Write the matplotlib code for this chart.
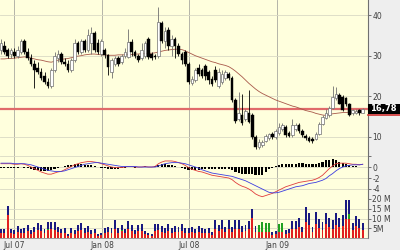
import matplotlib
matplotlib.use('Agg')
import numpy as np
import pandas as pd
import matplotlib.pyplot as plt
import matplotlib.dates as mdates
from matplotlib.patches import Rectangle
from matplotlib.lines import Line2D

# weekly candles, Jun 2007 - Jun 2009
dates = pd.date_range('2007-06-04', periods=109, freq='7D')

opens = [31.5, 32.5, 31.5, 30.5, 31.0, 30.0, 31.0, 33.5, 31.0, 29.5,
         28.0, 27.0, 26.0, 25.0, 23.5, 22.5, 26.5, 29.5, 30.5, 28.5,
         28.0, 26.5, 29.0, 33.0, 31.0, 33.5, 31.5, 33.0, 35.5, 33.0,
         30.5, 31.5, 30.2, 26.0, 28.0, 29.5, 28.5, 30.0, 29.7, 33.3,
         31.0, 30.0, 29.5, 30.0, 34.0, 30.3, 30.0, 30.0, 38.0, 33.5,
         36.3, 32.5, 34.0, 32.5, 30.5, 31.0, 28.0, 23.3, 24.0, 27.0,
         26.5, 27.5, 26.0, 24.3, 26.5, 22.5, 23.5, 24.5, 25.5, 24.5,
         19.0, 14.5, 15.5, 14.5, 16.0, 15.5, 10.0, 7.5, 8.0, 9.0,
         9.8, 10.8, 10.0, 11.0, 12.0, 12.5, 11.0, 10.5, 12.0, 13.0,
         11.5, 10.3, 9.8, 9.5, 9.5, 10.8, 13.2, 14.7, 15.5, 17.2,
         19.5, 20.3, 19.8, 19.5, 18.0, 15.8, 16.0, 16.6, 16.0]
closes = [33.0, 31.0, 30.0, 31.5, 30.0, 31.5, 33.5, 31.0, 29.5, 28.0,
          26.5, 26.0, 24.5, 23.5, 22.5, 26.5, 30.0, 30.5, 28.5, 28.0,
          26.5, 29.0, 33.0, 31.0, 33.5, 31.5, 35.0, 35.5, 31.5, 31.0,
          33.5, 30.2, 27.2, 28.9, 29.5, 28.0, 30.0, 31.0, 33.3, 30.8,
          29.8, 28.9, 31.5, 33.2, 29.7, 29.5, 29.7, 38.3, 33.5, 36.0,
          32.3, 34.0, 32.5, 30.5, 29.0, 28.0, 23.5, 24.2, 26.5, 25.5,
          25.0, 25.0, 24.0, 23.0, 24.0, 26.0, 25.5, 26.0, 24.5, 19.0,
          14.0, 16.0, 13.5, 16.3, 13.8, 10.0, 7.5, 8.7, 8.8, 10.3,
          10.8, 10.0, 11.5, 12.5, 13.0, 10.5, 10.3, 13.0, 13.0, 11.5,
          10.5, 9.8, 9.0, 8.9, 10.8, 13.3, 15.0, 15.8, 17.2, 19.8,
          20.5, 18.2, 16.6, 18.0, 15.5, 16.6, 16.5, 16.0, 16.8]
highs = [34.0, 33.5, 32.0, 32.0, 32.0, 32.5, 34.0, 34.0, 32.0, 30.5,
         29.0, 28.5, 27.0, 26.0, 24.5, 27.0, 31.0, 31.5, 31.0, 29.5,
         29.0, 29.5, 34.0, 33.5, 34.0, 34.0, 36.5, 37.0, 36.0, 34.0,
         34.0, 32.0, 30.5, 29.5, 30.0, 30.0, 30.5, 32.0, 36.5, 34.0,
         31.5, 30.5, 33.0, 33.5, 34.5, 30.8, 30.3, 42.0, 38.5, 37.0,
         37.0, 35.0, 34.5, 33.0, 31.0, 31.5, 28.5, 25.0, 27.0, 28.0,
         27.0, 28.0, 26.5, 25.0, 27.5, 27.0, 26.5, 26.5, 26.0, 25.0,
         19.5, 21.0, 20.5, 17.0, 21.5, 16.0, 10.5, 9.5, 9.2, 10.8,
         11.0, 11.3, 12.0, 13.5, 13.5, 13.0, 11.5, 14.5, 13.5, 13.5,
         12.0, 10.8, 10.3, 10.0, 11.2, 13.8, 15.5, 16.8, 17.5, 22.5,
         22.3, 20.8, 20.2, 19.8, 18.3, 17.0, 16.8, 16.8, 17.2]
lows = [30.5, 30.5, 29.5, 29.5, 29.5, 29.5, 30.5, 30.5, 29.0, 27.5,
        22.0, 25.5, 24.0, 23.0, 22.0, 22.0, 26.0, 28.5, 28.0, 27.5,
        26.0, 26.0, 28.5, 30.5, 30.5, 31.0, 31.0, 30.5, 31.0, 30.5,
        30.0, 29.5, 25.2, 24.5, 27.5, 27.5, 28.0, 29.5, 29.5, 30.0,
        29.5, 28.5, 29.0, 29.5, 29.3, 29.0, 29.3, 29.5, 33.0, 32.0,
        31.5, 30.0, 29.5, 30.0, 28.0, 27.5, 23.0, 22.8, 23.5, 25.0,
        24.5, 24.0, 23.0, 22.5, 23.5, 22.0, 23.0, 24.0, 24.0, 18.5,
        13.5, 14.0, 13.0, 14.0, 13.5, 9.5, 7.0, 7.0, 7.5, 8.8,
        9.3, 9.5, 9.5, 10.5, 11.5, 10.0, 10.0, 10.0, 11.5, 11.0,
        10.0, 9.3, 8.8, 8.6, 9.2, 10.5, 13.0, 14.5, 15.0, 17.0,
        19.0, 18.0, 16.3, 17.5, 15.2, 15.5, 15.6, 15.3, 15.8]
moving_avg = [29.2, 29.2, 29.3, 29.3, 29.4, 29.5, 29.6, 29.7, 29.6, 29.4,
              29.2, 29.0, 28.9, 28.7, 28.5, 28.4, 28.6, 28.9, 29.1, 29.2,
              29.3, 29.5, 29.7, 29.9, 30.0, 30.2, 30.3, 30.4, 30.4, 30.3,
              30.2, 30.2, 30.1, 30.1, 30.1, 30.2, 30.2, 30.2, 30.3, 30.3,
              30.4, 30.4, 30.5, 30.5, 30.6, 30.6, 30.7, 30.9, 31.1, 31.3,
              31.4, 31.5, 31.6, 31.6, 31.5, 31.2, 30.8, 30.4, 30.0, 29.7,
              29.4, 29.1, 28.8, 28.5, 28.3, 28.0, 27.8, 27.6, 27.3, 26.8,
              26.2, 25.5, 24.8, 24.0, 23.2, 22.5, 21.8, 21.2, 20.7, 20.3,
              19.9, 19.5, 19.1, 18.8, 18.5, 18.2, 17.9, 17.6, 17.4, 17.1,
              16.8, 16.5, 16.3, 16.1, 15.8, 15.6, 15.4, 15.3, 15.5, 15.7,
              15.8, 15.9, 16.0, 16.0, 16.1, 16.1, 16.1, 16.1, 16.2]
last_price = 16.78

macd = [0.6, 0.6, 0.6, 0.6, 0.5, 0.5, 0.6, 0.5, 0.3, 0.0,
        -0.3, -0.6, -0.9, -1.1, -1.3, -1.3, -1.1, -0.9, -0.8, -0.5,
        -0.2, 0.1, 0.4, 0.6, 0.8, 0.9, 1.0, 1.0, 0.9, 0.8,
        0.6, 0.4, 0.2, 0.0, -0.1, -0.1, -0.1, 0.0, 0.1, 0.1,
        0.0, 0.0, 0.0, 0.1, 0.0, 0.0, 0.1, 0.6, 0.9, 1.1,
        1.1, 1.1, 1.0, 0.8, 0.6, 0.3, -0.1, -0.4, -0.6, -0.8,
        -0.9, -1.1, -1.3, -1.5, -1.6, -1.7, -1.8, -1.9, -2.0, -2.3,
        -2.8, -3.2, -3.5, -3.7, -4.0, -4.4, -4.9, -5.2, -5.4, -5.2,
        -5.0, -4.8, -4.5, -4.2, -3.9, -3.6, -3.4, -3.2, -3.0, -2.8,
        -2.7, -2.6, -2.5, -2.4, -2.2, -1.9, -1.5, -0.9, -0.3, 0.2,
        0.6, 0.7, 0.7, 0.7, 0.6, 0.5, 0.5, 0.4, 0.5]
signal = [0.7, 0.7, 0.7, 0.7, 0.6, 0.6, 0.6, 0.6, 0.5, 0.4,
          0.2, 0.0, -0.2, -0.4, -0.6, -0.7, -0.8, -0.8, -0.8, -0.7,
          -0.5, -0.3, -0.1, 0.1, 0.3, 0.5, 0.6, 0.7, 0.8, 0.8,
          0.7, 0.6, 0.5, 0.4, 0.3, 0.2, 0.1, 0.1, 0.1, 0.1,
          0.1, 0.0, 0.0, 0.0, 0.0, 0.0, 0.0, 0.2, 0.4, 0.6,
          0.7, 0.8, 0.8, 0.8, 0.7, 0.6, 0.4, 0.2, 0.0, -0.2,
          -0.5, -0.7, -0.9, -1.1, -1.2, -1.3, -1.4, -1.5, -1.6, -1.7,
          -1.9, -2.1, -2.3, -2.5, -2.8, -3.1, -3.4, -3.7, -4.0, -4.3,
          -4.6, -4.7, -4.7, -4.6, -4.4, -4.2, -4.0, -3.8, -3.6, -3.5,
          -3.4, -3.2, -3.0, -2.9, -2.8, -2.6, -2.4, -2.1, -1.6, -1.2,
          -0.7, -0.3, 0.0, 0.2, 0.3, 0.4, 0.4, 0.4, 0.5]

# volume in millions, stacked red / green / blue
vol_red = [2.5, 2.5, 12.0, 2.5, 2.0, 3.0, 2.5, 2.5, 3.5, 2.0,
           3.0, 4.0, 3.5, 2.5, 4.0, 4.5, 4.0, 3.0, 2.5, 2.5,
           1.0, 2.5, 2.0, 3.5, 4.0, 2.5, 3.0, 2.0, 2.5, 1.0,
           1.5, 2.5, 3.0, 2.5, 4.5, 2.5, 3.5, 2.5, 4.5, 3.5,
           2.0, 3.5, 3.5, 2.0, 1.5, 1.0, 3.5, 4.0, 3.0, 2.5,
           3.5, 2.5, 3.0, 3.0, 3.5, 2.5, 2.5, 3.0, 2.5, 3.0,
           2.5, 2.5, 2.5, 1.5, 4.5, 3.5, 4.5, 3.0, 4.5, 3.0,
           4.5, 4.5, 3.0, 3.5, 4.5, 10.5, 3.0, 3.0, 3.0, 3.0,
           3.0, 1.5, 2.0, 3.0, 3.0, 2.0, 2.5, 4.5, 4.5, 5.5,
           3.0, 8.0, 6.5, 3.0, 7.0, 5.0, 4.0, 7.0, 5.5, 4.5,
           6.5, 5.5, 6.0, 10.0, 10.0, 4.0, 6.0, 5.0, 4.0]
vol_green = [0, 0, 0, 0, 0, 0, 0, 0, 0, 0,
             0, 0, 0, 0, 0.5, 0, 0, 0, 0, 0,
             0, 0, 0, 0, 0, 0, 0, 0, 0, 0,
             0, 0, 0, 0, 0, 0, 0.5, 0, 0, 0,
             0, 0, 0, 0, 0, 0, 0, 0, 0, 0,
             0, 0, 0, 0, 0, 0, 0, 0, 0, 0,
             0, 0, 0, 0, 0, 0, 0, 0, 0, 0,
             0, 0, 0, 0, 0, 0, 0, 3.5, 5.0, 4.5,
             4.5, 0, 0, 4.0, 4.5, 0, 0, 0, 0, 0,
             0, 0, 0, 0, 0, 0, 0, 0, 0, 0,
             0, 0, 0, 0, 2.5, 0, 0, 0, 0]
vol_blue = [2.0, 2.0, 4.5, 2.0, 2.0, 3.0, 2.0, 2.5, 3.0, 2.0,
            2.5, 3.5, 3.0, 2.0, 3.5, 3.5, 4.0, 2.5, 2.0, 2.5,
            1.0, 2.5, 2.0, 3.0, 3.5, 2.5, 3.0, 2.0, 2.0, 1.0,
            1.0, 2.5, 2.5, 2.5, 4.5, 2.5, 2.5, 2.0, 4.0, 3.0,
            2.0, 3.0, 3.5, 1.5, 1.0, 1.0, 3.5, 3.0, 3.0, 2.5,
            3.5, 2.5, 3.0, 2.5, 3.5, 2.5, 2.5, 2.5, 2.0, 3.0,
            2.5, 2.0, 2.5, 1.5, 4.5, 3.0, 4.5, 2.5, 4.5, 2.5,
            4.5, 4.5, 3.0, 3.0, 4.0, 4.5, 3.0, 0.0, 0.0, 0.0,
            0.0, 1.5, 1.5, 0.0, 0.0, 2.0, 2.0, 4.0, 4.0, 5.0,
            2.5, 8.0, 6.5, 2.5, 6.5, 4.5, 4.0, 6.0, 5.0, 4.5,
            6.5, 5.0, 6.0, 9.5, 7.0, 3.5, 5.5, 4.7, 3.5]

month_ticks = ['2007-07-01', '2008-01-01', '2008-07-01', '2009-01-01']
month_labels = ['Jul 07', 'Jan 08', 'Jul 08', 'Jan 09']

x = mdates.date2num(dates)
o = np.array(opens); c = np.array(closes)
up = c >= o

bg = '#FFFFDD'
hgrid = '#D9D9C4'
vgrid = '#A8A8A0'
txt = '#404040'
fs = 5.5

fig = plt.figure(figsize=(4, 2.5), dpi=100, facecolor='#EEEEEE')
ax1 = fig.add_axes([0, 0.388, 0.92, 0.612])
ax2 = fig.add_axes([0, 0.204, 0.92, 0.184], sharex=ax1)
ax3 = fig.add_axes([0, 0.048, 0.92, 0.156], sharex=ax1)

xt = mdates.date2num(pd.to_datetime(month_ticks))
for ax in (ax1, ax2, ax3):
    ax.set_facecolor(bg)
    for s in ('top', 'left'):
        ax.spines[s].set_visible(False)
    ax.spines['right'].set_color('#707070')
    ax.spines['bottom'].set_color('#909090')
    ax.spines['right'].set_linewidth(0.8)
    ax.spines['bottom'].set_linewidth(0.6)
    ax.yaxis.tick_right()
    ax.tick_params(axis='y', length=2, width=0.5, pad=1, labelsize=fs,
                   colors=txt)
    ax.tick_params(axis='x', length=0, labelsize=fs, colors=txt, pad=2)
    for v in xt:
        ax.axvline(v, color=vgrid, lw=0.6, zorder=0)

# price panel
ax1.set_ylim(6.05, 43.7)
ax1.set_yticks([10, 20, 30, 40])
ax1.set_yticklabels(['10', '20', '30', '40'])
for v in [10, 20, 30, 40]:
    ax1.axhline(v, color=hgrid, lw=0.6, zorder=0)
ax1.axhline(last_price, color='#E06A6A', lw=1.6, zorder=1)
ax1.plot(x, moving_avg, color='#A8584A', lw=0.6, zorder=2)
wick_col = np.where(up, '#707070', 'black')
ax1.vlines(x, lows, highs, colors=wick_col, lw=0.6, zorder=3)
body = np.maximum(np.abs(c - o), 0.15)
ax1.bar(x[up], body[up], bottom=o[up], width=5.5, color='white',
        edgecolor='#707070', linewidth=0.5, zorder=4)
ax1.bar(x[~up], body[~up], bottom=c[~up], width=5.5, color='black',
        edgecolor='black', linewidth=0.3, zorder=4)
plt.setp(ax1.get_xticklabels(), visible=False)

# last price tag
fig.add_artist(Rectangle((368 / 400, (250 - 114) / 250), 32 / 400, 10 / 250,
                         transform=fig.transFigure, facecolor='black',
                         edgecolor='none'))
fig.add_artist(Line2D([368 / 400, 1], [(250 - 115) / 250] * 2,
                      transform=fig.transFigure, color='#D03030', lw=1.2))
fig.text(370 / 400, (250 - 109) / 250, f'{last_price:.2f}'.replace('.', ','),
         color='white', fontsize=fs + 0.5, fontweight='bold', va='center')

# MACD panel
ax2.set_ylim(-5.82, 2.55)
ax2.set_yticks([2, 0, -2, -4])
ax2.set_yticklabels(['', '0', '-2', '-4'])
for v in [2, 0, -2, -4]:
    ax2.axhline(v, color=hgrid, lw=0.6, zorder=0)
hist = np.array(macd) - np.array(signal)
ax2.bar(x, hist, width=4.5, color='black', zorder=2)
ax2.plot(x, macd, color='#E03C3C', lw=0.6, zorder=3)
ax2.plot(x, signal, color='#3C3CE0', lw=0.6, zorder=3)
plt.setp(ax2.get_xticklabels(), visible=False)

# volume panel
ax3.set_ylim(0, 19.6)
ax3.set_yticks([5, 10, 15, 20])
ax3.set_yticklabels(['5M', '10 M', '15 M', '20 M'])
for v in [5, 10, 15]:
    ax3.axhline(v, color=hgrid, lw=0.6, zorder=0)
r = np.array(vol_red); g = np.array(vol_green); b = np.array(vol_blue)
ax3.bar(x, r, width=4, color='#E02020', zorder=2)
ax3.bar(x, g, bottom=r, width=4, color='#20A020', zorder=2)
ax3.bar(x, b, bottom=r + g, width=4, color='#1A1A80', zorder=2)
ax3.set_xticks(xt)
ax3.set_xticklabels(month_labels)

ax1.set_xlim(mdates.date2num(pd.Timestamp('2007-06-02')),
             mdates.date2num(pd.Timestamp('2009-07-10')))

fig.savefig('out.png', dpi=100, facecolor=fig.get_facecolor())
